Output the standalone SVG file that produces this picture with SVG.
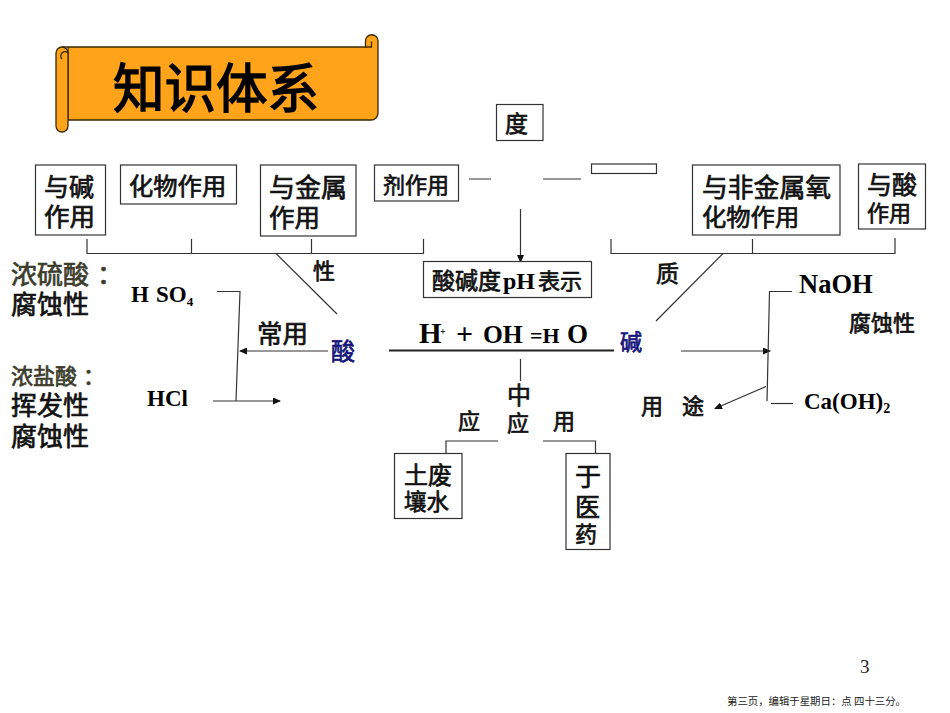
<svg xmlns="http://www.w3.org/2000/svg" width="950" height="713" viewBox="0 0 950 713">
<style>
text{font-family:"Noto Sans CJK SC","Noto Sans CJK JP",sans-serif;font-weight:400;fill:#111;stroke:#111;stroke-width:.7}
.t{font-family:"Liberation Serif","Noto Sans CJK SC",serif;font-weight:700;fill:#000;stroke:none}
.box{fill:#fff;stroke:#333;stroke-width:1.2}
.ln{fill:none;stroke:#333;stroke-width:1.2}
.gr{fill:#3c3c2c;stroke:#3c3c2c}
.nv{fill:#14147a;stroke:#14147a}
.scroll{fill:#ffa31a;stroke:#3a2a00;stroke-width:1.3}
.plain{stroke:none;font-weight:400;fill:#222}
</style>
<defs>
<marker id="a" markerWidth="8" markerHeight="7" refX="7" refY="3.500" orient="auto" markerUnits="userSpaceOnUse"><path d="M0 0L8 3.500L0 7z" fill="#111"/></marker>
</defs>
<rect width="950" height="713" fill="#fff"/>
<g id="title">
<path class="scroll" d="M62 47H365.500V41A6.250 6.250 0 0 1 378 41V113A7 7 0 0 1 371 120H68V47Z"/>
<path class="scroll" d="M56 53A6 6 0 0 1 68 53V126A6 6 0 0 1 56 126Z"/>
<path class="scroll" d="M62 59A4 4 0 0 1 68 53" style="fill:none"/>
<path class="scroll" d="M365.500 47H371.500V41.500" style="fill:none"/>
<text x="113" y="108" font-size="53" textLength="206" lengthAdjust="spacingAndGlyphs" style="fill:#000;stroke:#000;stroke-width:1.5">知识体系</text>
</g>
<g id="connectors">
<path class="ln" d="M87 239V253.500H423.500V239M191.500 239V253.500M311.500 239V253.500"/>
<path class="ln" d="M611 239V253.500H895V238M752.500 239V253.500"/>
<path class="ln" d="M276 253.500L337 314M723 253.500L656 321"/>
<path class="ln" d="M469 179H491M543 179H581"/>
<path class="ln" d="M520.500 209V262" marker-end="url(#a)"/>
<path class="ln" d="M217 291.500H240L236 401"/>
<path class="ln" d="M328 351H240" marker-end="url(#a)"/>
<path class="ln" d="M213 401H280" marker-end="url(#a)"/>
<path d="M389 350.500H614" stroke="#222" stroke-width="2" fill="none"/>
<path class="ln" d="M520.500 359V381"/>
<path class="ln" d="M681 351H770" marker-end="url(#a)"/>
<path class="ln" d="M792 291.500H769.500L767 401"/>
<path class="ln" d="M766 386.500L715 408.500" marker-end="url(#a)"/>
<path class="ln" d="M771 403.500H793"/>
<path class="ln" d="M498 441H446V455M543 441H595.500V455"/>
</g>
<g id="n1"><rect class="box" x="35.500" y="165" width="70" height="70"/><text font-size="25"><tspan x="44" y="196">与碱</tspan><tspan x="44" y="226" font-size="25.500">作用</tspan></text></g>
<g id="n2"><rect class="box" x="120.500" y="165" width="116" height="39"/><text x="129" y="195" font-size="24.300">化物作用</text></g>
<g id="n3"><rect class="box" x="260.500" y="165" width="95.500" height="71"/><text font-size="26"><tspan x="269" y="197">与金属</tspan><tspan x="269" y="227" font-size="25.500">作用</tspan></text></g>
<g id="n4"><rect class="box" x="374.500" y="165" width="84" height="36"/><text x="383" y="193" font-size="22">剂作用</text></g>
<g id="n5"><rect class="box" x="496.500" y="104.500" width="46.500" height="36"/><text x="505" y="132" font-size="23">度</text></g>
<g id="n6"><rect class="box" x="591.500" y="164" width="65" height="9.500"/></g>
<g id="n7"><rect class="box" x="692.500" y="165" width="147.500" height="70"/><text font-size="25.800"><tspan x="702" y="197">与非金属氧</tspan><tspan x="702" y="226" font-size="24.300">化物作用</tspan></text></g>
<g id="n8"><rect class="box" x="858.500" y="164" width="67" height="65"/><text font-size="25"><tspan x="867" y="194">与酸</tspan><tspan x="867" y="221" font-size="22">作用</tspan></text></g>
<g id="n9"><rect class="box" x="423.500" y="261.500" width="168" height="36"/><text x="432" y="289" font-size="23">酸碱度</text><text class="t" x="503" y="289" font-size="24">pH</text><text x="538" y="289" font-size="22">表示</text></g>
<g id="n10"><rect class="box" x="394.500" y="453.500" width="67.500" height="65"/><text font-size="24"><tspan x="404" y="484">土废</tspan><tspan x="404" y="510" font-size="22.500">壤水</tspan></text></g>
<g id="n11"><rect class="box" x="566" y="453.500" width="44" height="96"/><text font-size="26"><tspan x="575" y="486">于</tspan><tspan x="575" y="516" font-size="25">医</tspan><tspan x="575" y="542" font-size="22">药</tspan></text></g>
<g id="labels">
<text font-size="26"><tspan class="gr" x="11" y="284">浓硫酸<tspan dx="8">：</tspan></tspan><tspan x="11" y="314">腐蚀性</tspan></text>
<text font-size="26"><tspan class="gr" x="11" y="384" font-size="22">浓盐酸<tspan dx="6">：</tspan></tspan><tspan x="11" y="415">挥发性</tspan><tspan x="11" y="446">腐蚀性</tspan></text>
<text class="t" x="131" y="302" font-size="23">H</text>
<text class="t" x="156" y="302" font-size="23">SO<tspan font-size="13" dy="4">4</tspan></text>
<text class="t" x="147" y="406" font-size="23">HCl</text>
<text x="257" y="343" font-size="25.500">常用</text>
<text x="313" y="279" font-size="22">性</text>
<text class="nv" x="331" y="360" font-size="24">酸</text>
<text class="nv" x="620" y="350" font-size="22">碱</text>
<text x="656" y="282" font-size="23">质</text>
<text class="t" x="419" y="343" font-size="29">H</text>
<text class="t" x="440" y="335" font-size="10">+</text>
<text class="t" x="456" y="344" font-size="30">+</text>
<text class="t" x="483" y="343" font-size="25.500">OH</text>
<text class="t" x="530" y="343" font-size="22">=H</text>
<text class="t" x="567" y="343" font-size="27">O</text>
<text x="507" y="404" font-size="24">中</text>
<text x="458" y="429" font-size="22">应</text>
<text x="507" y="431" font-size="22">应</text>
<text x="553" y="429" font-size="22">用</text>
<text x="641" y="414" font-size="22">用</text>
<text x="682" y="414" font-size="22">途</text>
<text class="t" x="799" y="293" font-size="26.500">NaOH</text>
<text x="849" y="331" font-size="22">腐蚀性</text>
<text class="t" x="804" y="409" font-size="23">Ca(OH)<tspan font-size="14" dy="4">2</tspan></text>
<text class="plain" x="860" y="673" font-size="19" style="font-family:'Liberation Serif',serif">3</text>
<text class="plain" x="727" y="705" font-size="10.400">第三页，编辑于星期日：点 四十三分。</text>
</g>
</svg>
